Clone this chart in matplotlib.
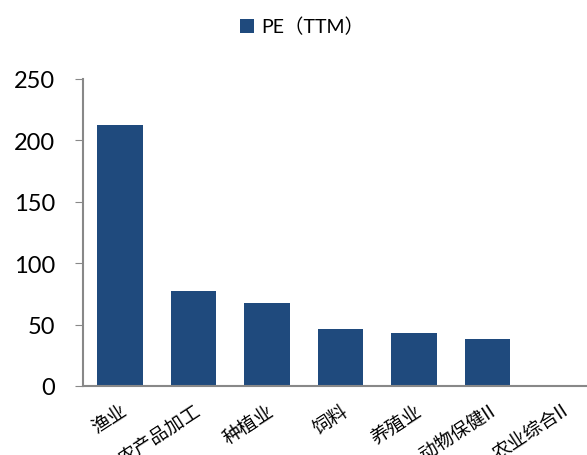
import numpy as np
import matplotlib
matplotlib.use("Agg")
import matplotlib.pyplot as plt

categories = ["渔业", "农产品加工", "种植业", "饲料", "养殖业", "动物保健II", "农业综合II"]
pe_ttm = [212.5, 77.5, 67.8, 46.5, 43.5, 38.5, 0]
yticks = [0, 50, 100, 150, 200, 250]

fig = plt.figure(figsize=(5.87, 4.56), dpi=100)
ax = fig.add_axes([83/587, (456-387)/456, (598-83)/587, (387-80)/456])

x = np.arange(len(categories))
ax.bar(x, pe_ttm, width=0.62, color="#1f4a7d", label="PE（TTM）")

ax.set_xlim(-0.5, len(categories) - 0.5)
ax.set_ylim(0, 250)
ax.set_yticks(yticks)
ax.set_yticklabels([str(v) for v in yticks], fontsize=17, family=["Lato", "DejaVu Sans"])
ax.tick_params(axis="y", length=6, color="#888888", pad=14)
ax.tick_params(axis="x", length=0, pad=10)
ax.set_xticks(x)
ax.set_xticklabels(categories, rotation=33, ha="right", va="top", rotation_mode="anchor",
                   fontsize=13.5, family=["Noto Sans CJK SC", "DejaVu Sans"])

for s in ["top", "right"]:
    ax.spines[s].set_visible(False)
for s in ["left", "bottom"]:
    ax.spines[s].set_color("#888888")
    ax.spines[s].set_linewidth(1.5)

fig.legend(loc="center", bbox_to_anchor=(0.515, 0.94), frameon=False,
           handlelength=0.7, handleheight=0.7, handletextpad=0.4,
           prop={"family": ["Lato", "Noto Sans CJK SC"], "size": 14})

fig.savefig("out.png", dpi=100)
